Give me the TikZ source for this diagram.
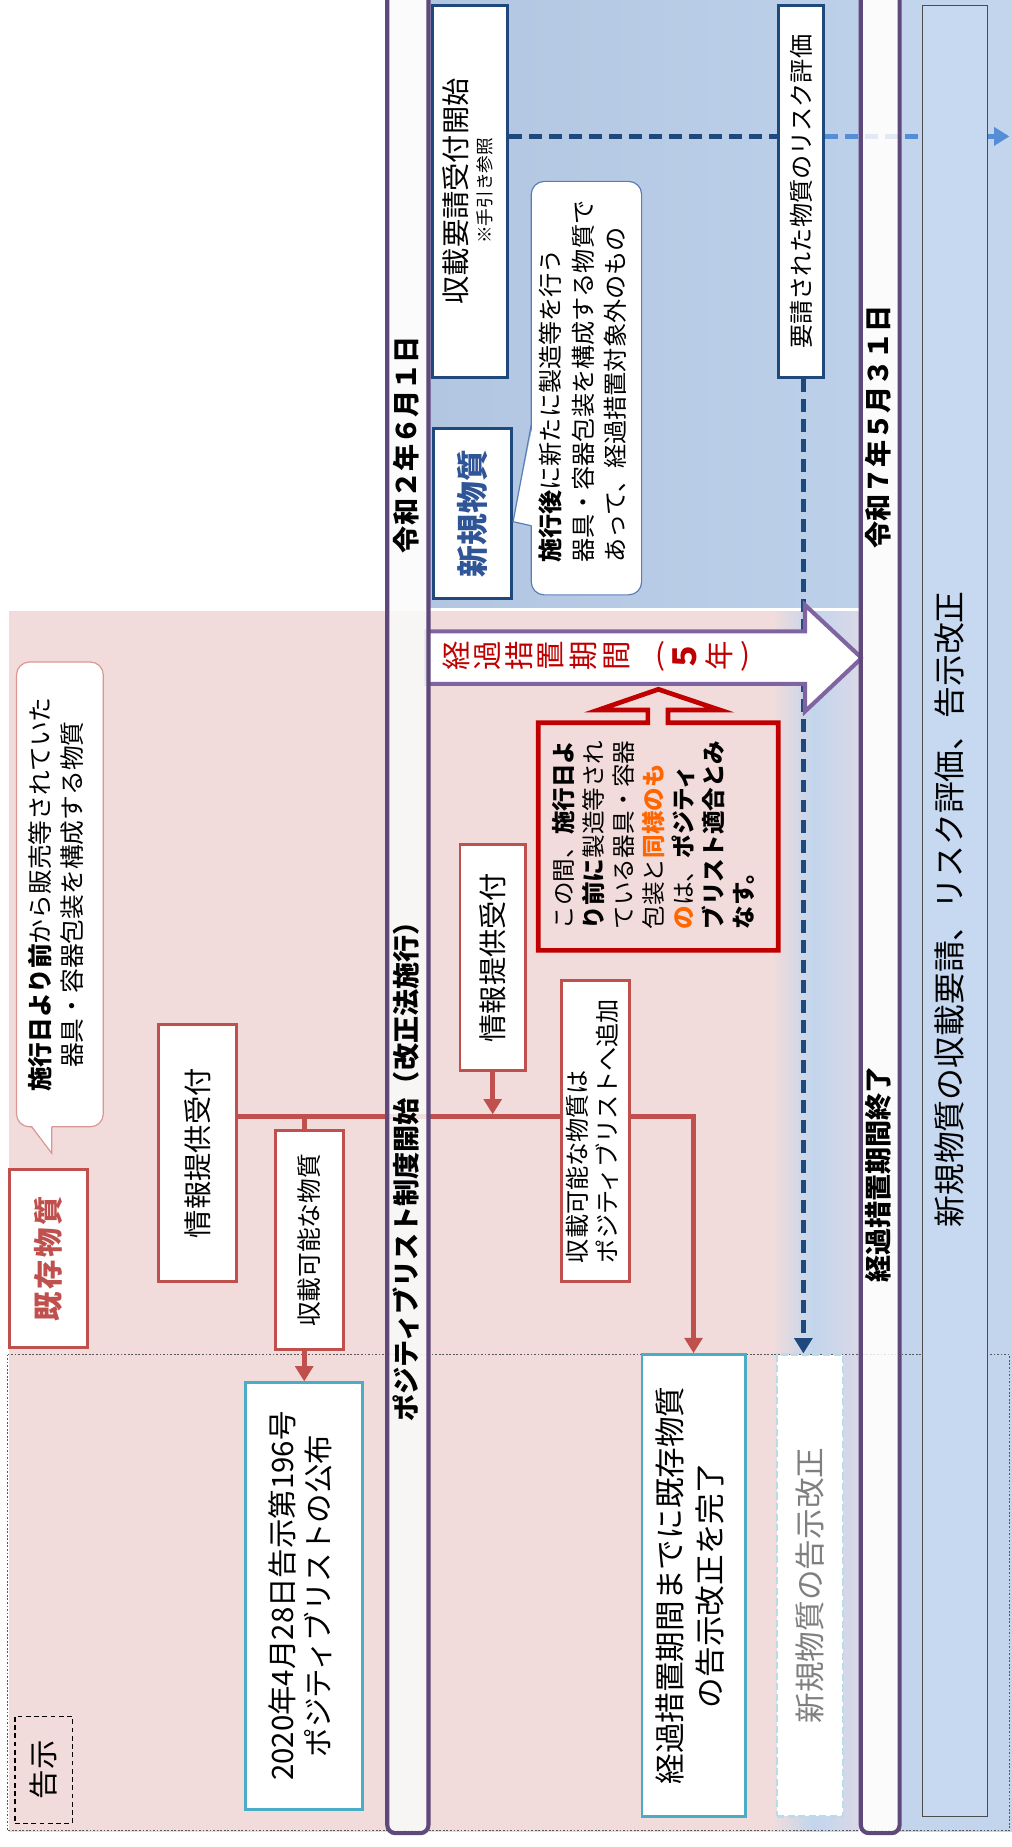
\documentclass[tikz,border=0pt]{standalone}
\usepackage{fontspec}
\setmainfont{Noto Sans CJK JP}
\usetikzlibrary{arrows.meta}
\pgfdeclarelayer{bg}
\pgfdeclarelayer{lines}
\pgfsetlayers{bg,lines,main}
\definecolor{bgpink}{HTML}{F2DCDB}
\definecolor{bgblueL}{HTML}{B3C6E1}
\definecolor{bgblueR}{HTML}{BDD0EA}
\definecolor{bgblue2}{HTML}{C2D5EC}
\definecolor{lav}{HTML}{DAD8E8}
\definecolor{barpur}{HTML}{5F497A}
\definecolor{barfill}{HTML}{FAFAFA}
\definecolor{arrpur}{HTML}{8064A2}
\definecolor{redb}{HTML}{C0504D}
\definecolor{darkred}{HTML}{C00000}
\definecolor{cyanb}{HTML}{4BACC6}
\definecolor{navyb}{HTML}{1F497D}
\definecolor{boxnavy}{HTML}{2F5597}
\definecolor{midblue}{HTML}{558ED5}
\definecolor{orng}{HTML}{FF6600}
\definecolor{bubred}{HTML}{D99694}
\definecolor{bubblue}{HTML}{5B7DB5}
\definecolor{rboxfill}{HTML}{C6D9F1}
\definecolor{ltcyan}{HTML}{B7DEE8}
\definecolor{graytxt}{HTML}{7F7F7F}
\newcommand\vRC[1]{\rotatebox{90}{\begin{tabular}{@{}c@{}}#1\end{tabular}}}
\newcommand\vRL[1]{\rotatebox{90}{\begin{tabular}{@{}l@{}}#1\end{tabular}}}
\newcommand\vRT[1]{\rotatebox{90}{#1}}
\newcommand\fsz[1]{\fontsize{#1}{#1}\selectfont}
\tikzset{
  mybox/.style={draw, fill=white, inner sep=0pt},
  redbox/.style={mybox, draw=redb, line width=2.5pt},
  cyanbox/.style={mybox, draw=cyanb, line width=2.5pt},
  navybox/.style={mybox, draw=navyb, line width=2.5pt},
  mybar/.style={draw=barpur, line width=3.5pt, fill=barfill, fill opacity=0.85, rounded corners=7pt, inner sep=0pt},
  txt/.style={inner sep=0pt},
  bartxt/.style={inner sep=0pt, font=\fsz{23}\bfseries},
  redline/.style={draw=redb, line width=4pt},
  tipa/.style={-{Triangle[width=15pt,length=13pt]}},
  navydash/.style={draw=navyb, line width=4.5pt, dash pattern=on 11pt off 6pt},
  lightdash/.style={draw=midblue, line width=4pt, dash pattern=on 11pt off 6pt},
  bubA/.style={draw=bubred, line width=1pt, fill=white},
  bubB/.style={draw=bubblue, line width=1pt, fill=white},
  dotline/.style={draw=gray!70!black, line width=0.8pt, dash pattern=on 1.5pt off 1.5pt},
  arrtxt/.style={inner sep=0pt, text=darkred, font=\fsz{25}}
}
\begin{document}
\begin{tikzpicture}[x=1pt,y=-1pt]
\path[use as bounding box] (0,0) rectangle (859,1568);
\begin{pgfonlayer}{bg}
  \fill[bgpink] (8,519) rectangle (655.5,1555);
  \shade[left color=bgpink, right color=bgblue2] (655,519) rectangle (690.5,1555);
  \shade[left color=bgblue2, right color=lav] (690,519) rectangle (729,1555);
  \shade[left color=bgblueL, right color=bgblueR] (362,0) rectangle (729,516);
  \fill[bgblue2] (762,0) rectangle (859,1555);
  \draw[dotline] (6,1150) rectangle (857,1554);
\end{pgfonlayer}
\clip (0,0) rectangle (859,1568);
% big transition arrow
\draw[draw=arrpur, line width=3.5pt, fill=white, line join=miter] (362,536) -- (683.4,536) -- (683.4,513.6) -- (731.5,558.6) -- (683.4,604) -- (683.4,580.6) -- (362,580.6) -- cycle;
% bars
\node[mybar, minimum width=35pt, minimum height=1600pt, anchor=south west] (bar1) at (327,1558) {};
\node[mybar, minimum width=33pt, minimum height=1600pt, anchor=south west] (bar2) at (729,1558) {};
\node[bartxt] (t1) at (344.5,377.5) {\vRT{令和２年６月１日}};
\node[bartxt] (t2) at (344.5,989) {\vRT{ポジティブリスト制度開始（改正法施行）}};
\node[bartxt] (t3) at (745.5,362.5) {\vRT{令和７年５月３１日}};
\node[bartxt] (t4) at (745.5,997) {\vRT{経過措置期間終了}};
% right box
\node[mybox, draw=gray!60!black, line width=0.8pt, fill=rboxfill, minimum width=55pt, minimum height=1537pt] (rb) at (810.5,773.5) {};
\node[txt, font=\fsz{27}] (rbt) at (806,772) {\vRT{新規物質の収載要請、リスク評価、告示改正}};
% existing substances
\node[mybox, draw=black, line width=1.3pt, dash pattern=on 4pt off 3pt, fill=none, minimum width=48.7pt, minimum height=91pt, font=\fsz{25}] (koku) at (37,1502.5) {\vRT{告示}};
\node[cyanbox, minimum width=99.5pt, minimum height=362pt, font=\fontsize{25}{31}\selectfont] (pub) at (258.25,1355) {\vRC{2020年4月28日告示第196号\\ポジティブリストの公布}};
\node[redbox, minimum width=66pt, minimum height=151pt, text=redb, font=\fsz{25}\bfseries] (kizon) at (41,1068.5) {\vRT{既\kern2pt 存\kern2pt 物\kern2pt 質}};
\draw[bubA, rounded corners=11pt] (14,562) rectangle (87.7,956.6);
\fill[white] (26.9,955.5) -- (43.9,979) -- (43.9,955.5) -- cycle;
\draw[draw=bubred, line width=1pt] (26.9,956.6) -- (43.9,979) -- (43.9,956.6);
\node[txt, font=\fontsize{21}{27}\selectfont] (b1t) at (50.25,759.5) {\vRC{\textbf{施行日より前}から販売等されていた\\器具・容器包装を構成する物質}};
\node[redbox, minimum width=65.9pt, minimum height=218pt, font=\fsz{24}] (info1) at (167.45,979) {\vRT{情報提供受付}};
\node[redbox, minimum width=58.3pt, minimum height=186pt, font=\fsz{21}] (ks1) at (262.85,1053) {\vRT{収載可能な物質}};
\node[redbox, minimum width=55.5pt, minimum height=192pt, font=\fsz{24}] (info2) at (418.25,813) {\vRT{情報提供受付}};
\node[redbox, minimum width=58pt, minimum height=255pt, font=\fontsize{20.5}{25.4}\selectfont] (ks2) at (505.8,960.15) {\vRL{収載可能な物質は\\ポジティブリストへ追加}};
\node[cyanbox, minimum width=87.5pt, minimum height=392pt, font=\fontsize{26}{34}\selectfont] (keika) at (588.75,1346) {\vRC{経過措置期間までに既存物質\\の告示改正を完了}};
\node[mybox, draw=ltcyan, line width=2pt, dash pattern=on 6pt off 3pt, minimum width=56pt, minimum height=392pt, text=graytxt, font=\fsz{26}] (sk) at (687.6,1346) {\vRT{新規物質の告示改正}};
% callout
\draw[draw=darkred, line width=4pt, line join=miter] (456.9,613.6) -- (550,613.6) -- (550,602.7) -- (508,602.7) -- (558.9,585.2) -- (611,602.7) -- (567,602.7) -- (567,613.6) -- (660.6,613.6) -- (660.6,806.8) -- (456.9,806.8) -- cycle;
\node[txt, anchor=south, font=\fontsize{20}{25.5}\selectfont] (ct) at (557.5,789) {\vRL{この間、\textbf{施行日よ}\\\textbf{り前に}製造等され\\ている器具・容器\\包装と\textcolor{orng}{\textbf{同様のも}}\\\textcolor{orng}{\textbf{の}}は、\textbf{ポジティ}\\\textbf{ブリスト適合とみ}\\\textbf{なす。}}};
% arrow label
\foreach \c/\x [count=\i] in {経/387,過/414,措/441,置/468,期/495,間/524,年/611}
  \node[arrtxt] (ar\i) at (\x,557) {\vRT{\c}};
\node[arrtxt] (arp1) at (561,557) {(};
\node[arrtxt, font=\fsz{27}\bfseries] (ar5n) at (581.5,557) {\vRT{５}};
\node[arrtxt] (arp2) at (633,557) {)};
% new substances
\node[navybox, minimum width=66pt, minimum height=144.3pt, text=boxnavy, font=\fsz{27}\bfseries] (shinki) at (401,436.15) {\vRT{新規物質}};
\draw[bubB, rounded corners=11pt] (451,154) rectangle (544.7,505);
\fill[white] (452.3,360.7) -- (435.6,442.9) -- (452.3,446.3) -- cycle;
\draw[draw=bubblue, line width=1pt] (451,360.7) -- (435.6,442.9) -- (451,446.3);
\node[txt, anchor=south, font=\fontsize{20.5}{27.3}\selectfont] (b2t) at (497.15,478) {\vRL{\textbf{施行後}に新たに製造等を行う\\器具・容器包装を構成する物質で\\あって、経過措置対象外のもの}};
\node[navybox, minimum width=64pt, minimum height=315.5pt] (shusai) at (399,162.75) {};
\node[txt, font=\fsz{24}] (ss1) at (387,162.5) {\vRT{収載要請受付開始}};
\node[txt, font=\fsz{15}] (ss2) at (411.5,162) {\vRT{※手引き参照}};
\node[navybox, minimum width=38pt, minimum height=315.5pt, font=\fsz{20.5}] (yosei) at (680,162.75) {\vRT{要請された物質のリスク評価}};
% connectors
\begin{pgfonlayer}{lines}
  \coordinate (ry) at (0,948);
  \coordinate (dy) at (0,115.8);
  \coordinate (dx) at (682,0);
  \coordinate (dend) at (857,115.8);
  \draw[redline, tipa] (info1.east |- ry) -| (keika.north);
  \draw[redline] (pub.north |- ry) -- (pub.north |- ks1.north);
  \draw[redline, tipa] (pub.north |- ks1.south) -- (pub.north);
  \draw[redline, tipa, shorten >=2pt] (info2.south) -- (info2.south |- ry);
  \draw[navydash] (shusai.east |- dy) -- (yosei.west |- dy);
  \draw[lightdash, tipa] (yosei.east |- dy) -- (dend);
  \draw[navydash, -{Triangle[width=15pt,length=13pt]}] (yosei.south -| dx) -- (sk.north -| dx);
\end{pgfonlayer}
\end{tikzpicture}
\end{document}
